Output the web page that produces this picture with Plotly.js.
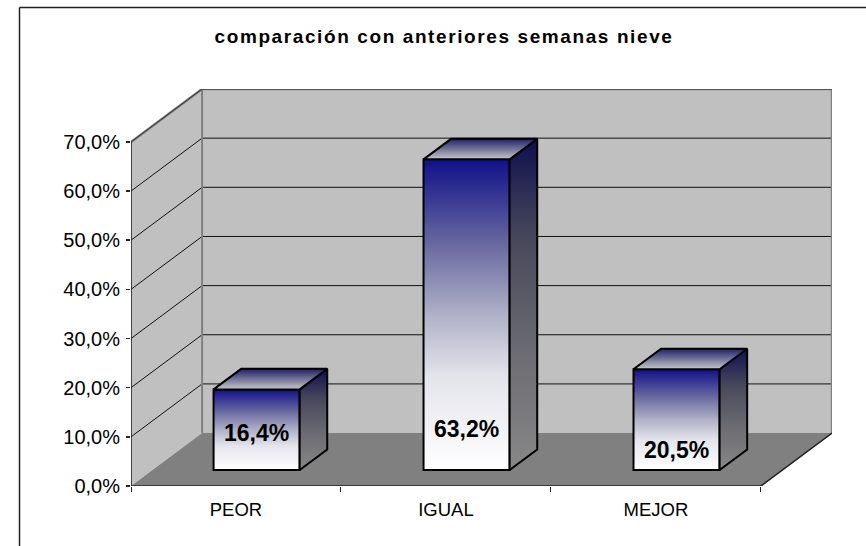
<!DOCTYPE html>
<html><head><meta charset="utf-8">
<script src="https://cdn.plot.ly/plotly-3.0.1.min.js"></script>
<style>html,body{margin:0;padding:0;background:#fff}#c{width:866px;height:546px}</style>
</head><body><div id="c"></div>
<script>
const categories = ['PEOR', 'IGUAL', 'MEJOR'];
const values = [16.4, 63.2, 20.5];
const yTicks = [0, 10, 20, 30, 40, 50, 60, 70];
const chartTitle = 'comparación con anteriores semanas nieve';

// oblique projection: one unit of depth shifts by DX categories and DY value units
const DX = 0.3386, DY = 10.77;
const DEPTH_FRONT = 0.302, DEPTH_BACK = 0.69, BAR_W = 0.41, BAR_SHIFT = -0.004;
const labelHeight = [10.4, 11.1, 6.9];
const yMax = yTicks[yTicks.length - 1], nCat = categories.length;
const W = 866, H = 546, M = {l: 131, r: 34, t: 89, b: 60};
const px = (c, d) => c + d * DX, py = (v, d) => v + d * DY;
const fmt = v => v.toFixed(1).replace('.', ',') + '%';

function poly(pts) {
  return 'M' + pts.map(p => px(p[0], p[1]) + ',' + py(p[2], p[1])).join('L') + 'Z';
}
function seg(a, b, color, width) {
  return {type: 'line', layer: 'below', xref: 'x', yref: 'y',
    x0: px(a[0], a[1]), y0: py(a[2], a[1]), x1: px(b[0], b[1]), y1: py(b[2], b[1]),
    line: {color, width}};
}
function area(pts, fill) {
  return {type: 'path', layer: 'below', xref: 'x', yref: 'y', path: poly(pts), fillcolor: fill, line: {width: 0}};
}
const shapes = [
  area([[0,0,0],[0,1,0],[0,1,yMax],[0,0,yMax]], '#c0c0c0'),
  area([[0,1,0],[nCat,1,0],[nCat,1,yMax],[0,1,yMax]], '#c0c0c0'),
  area([[0,0,0],[nCat,0,0],[nCat,1,0],[0,1,0]], '#808080')
];
yTicks.filter(v => v > 0 && v < yMax).forEach(v => {
  shapes.push(seg([0,0,v],[0,1,v],'#111',1));
  shapes.push(seg([0,1,v],[nCat,1,v],'#111',1));
});
// outer frame (paper coordinates)
const pw = W - M.l - M.r, ph = H - M.t - M.b;
const fx = p => (p - M.l) / pw, fy = p => 1 - (p - M.t) / ph;
[[19.5,7.5,19.5,546],[19.5,7.5,866,7.5]].forEach(s => shapes.push({type:'line',xref:'paper',yref:'paper',
  x0:fx(s[0]),y0:fy(s[1]),x1:fx(s[2]),y1:fy(s[3]),line:{color:'#222',width:1.5}}));

function lineTrace(pts, color, width) {
  return {type:'scatter', mode:'lines', cliponaxis:false, hoverinfo:'skip', showlegend:false,
    x: pts.map(p => px(p[0],p[1])), y: pts.map(p => py(p[2],p[1])), line:{color,width}};
}
const traces = [];
// front bars
traces.push({type:'bar', showlegend:false, hoverinfo:'skip', name:'front',
  x: values.map((v,i) => px(i+0.5+BAR_SHIFT, DEPTH_FRONT)), y: values, base: values.map(() => py(0, DEPTH_FRONT)),
  width: BAR_W, marker:{color:'#8080c0', line:{color:'#000', width:2}}});
// side and top faces
values.forEach((v,i) => {
  const l = i + 0.5 + BAR_SHIFT - BAR_W/2, r = i + 0.5 + BAR_SHIFT + BAR_W/2;
  const face = (name, pts, color) => ({type:'scatter', mode:'lines', fill:'toself', name, cliponaxis:false,
    hoverinfo:'skip', showlegend:false, fillcolor:color, line:{color:'#000',width:2},
    x: pts.map(p => px(p[0],p[1])), y: pts.map(p => py(p[2],p[1]))});
  traces.push(face('side', [[r,DEPTH_FRONT,0],[r,DEPTH_BACK,0],[r,DEPTH_BACK,v],[r,DEPTH_FRONT,v],[r,DEPTH_FRONT,0]], '#444466'));
  traces.push(face('top', [[l,DEPTH_FRONT,v],[r,DEPTH_FRONT,v],[r,DEPTH_BACK,v],[l,DEPTH_BACK,v],[l,DEPTH_FRONT,v]], '#8888aa'));
});
// wall borders and front axes
traces.push(lineTrace([[0,0,yMax],[0,1,yMax],[nCat,1,yMax],[nCat,1,0]], '#808080', 2.5));
traces.push(lineTrace([[0,1,yMax],[0,1,0]], '#808080', 2));
traces.push(lineTrace([[0,0,yMax],[0,1,yMax],[nCat,1,yMax]], '#333', 1));
traces.push(lineTrace([[0,0,yMax],[0,0,0],[nCat,0,0],[nCat,1,0]], '#222', 1.6));
// data labels
traces.push({type:'scatter', mode:'text', cliponaxis:false, hoverinfo:'skip', showlegend:false,
  x: values.map((v,i) => px(i+0.5+BAR_SHIFT, DEPTH_FRONT)), y: labelHeight,
  text: values.map(fmt), textposition:'middle center',
  textfont:{family:'Liberation Sans, Arial, sans-serif', size:23, color:'#000', weight:'bold'}});

const layout = {
  width: W, height: H, margin: {l:M.l, r:M.r, t:M.t, b:M.b, autoexpand:false},
  paper_bgcolor:'#fff', plot_bgcolor:'rgba(0,0,0,0)', showlegend:false, hovermode:false,
  font:{family:'Liberation Sans, Arial, sans-serif', color:'#000'},
  separators: ',.',
  title:{text:'<b>'+chartTitle+'</b>', x:444/W, xanchor:'center', y:1-36/H, yanchor:'middle',
    font:{family:'Liberation Sans, Arial, sans-serif', size:19, color:'#000'}},
  xaxis:{type:'linear', range:[0, nCat+DX], tickmode:'array', tickvals:categories.map((c,i)=>i+0.5), ticktext:categories,
    ticks:'', showgrid:false, zeroline:false, showline:false, tickfont:{size:18.5}, ticklabelstandoff:10,
    minor:{tickmode:'array', tickvals:[0,1,2,3], ticks:'outside', ticklen:5, tickwidth:1, tickcolor:'#222', showgrid:false}},
  yaxis:{range:[0, yMax+DY], tickmode:'array', tickvals:yTicks, ticktext:yTicks.map(v=>fmt(v)),
    ticks:'outside', ticklen:4, tickwidth:1.5, tickcolor:'#222', showgrid:false, zeroline:false, showline:false,
    tickfont:{size:20}, ticklabelstandoff:2},
  shapes
};
Plotly.newPlot('c', traces, layout, {displayModeBar:false, staticPlot:true}).then(gd => {
  const svg = gd.querySelector('svg.main-svg');
  const ns = 'http://www.w3.org/2000/svg';
  let defs = svg.querySelector('defs');
  const mk = (id, stops) => {
    const g = document.createElementNS(ns,'linearGradient');
    g.setAttribute('id',id); g.setAttribute('x1','0'); g.setAttribute('y1','0'); g.setAttribute('x2','0'); g.setAttribute('y2','1');
    stops.forEach(s => { const e = document.createElementNS(ns,'stop'); e.setAttribute('offset',s[0]); e.setAttribute('stop-color',s[1]); g.appendChild(e); });
    defs.appendChild(g);
  };
  mk('gFront', [[0,'#10108a'],[0.29,'#6e6ea2'],[0.5,'#b0b0c8'],[0.7,'#e4e4ec'],[1,'#ffffff']]);
  mk('gSide', [[0,'#0f0f50'],[0.3,'#48485c'],[0.65,'#6c6c72'],[1,'#888888']]);
  mk('gTop', [[0,'#20206a'],[1,'#c8c8c8']]);
  gd.querySelectorAll('.barlayer .point path').forEach(p => { p.style.fill = 'url(#gFront)'; });
  gd.querySelectorAll('.scatterlayer .trace').forEach(t => {
    const d = t.__data__; const name = d && d[0] && d[0].trace && d[0].trace.name;
    const f = t.querySelector('.js-fill');
    if (f && name === 'side') f.style.fill = 'url(#gSide)';
    if (f && name === 'top') f.style.fill = 'url(#gTop)';
  });
  const title = gd.querySelector('.gtitle');
  if (title) title.style.letterSpacing = '1.6px';
});
</script></body></html>
